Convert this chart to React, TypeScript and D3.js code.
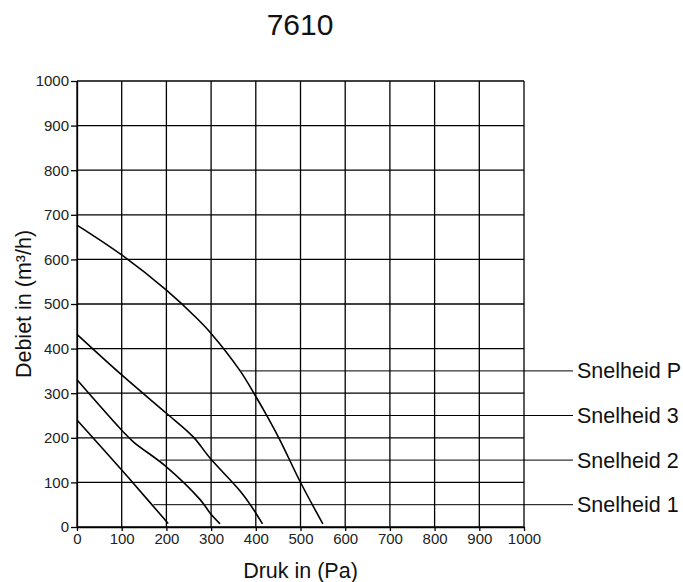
import React, { useEffect, useRef } from 'react';
import * as d3 from 'd3';

// values: pressure (Pa) vs flow (m³/h)
const xTicks = [0, 100, 200, 300, 400, 500, 600, 700, 800, 900, 1000];
const yTicks = [0, 100, 200, 300, 400, 500, 600, 700, 800, 900, 1000];

const speedNames = ['Snelheid P', 'Snelheid 3', 'Snelheid 2', 'Snelheid 1'];

const pressureP = [0, 100, 200, 268, 300, 365, 398, 424, 454, 499, 550];
const flowP = [677, 610, 531, 468, 434, 350, 296, 251, 195, 102, 7];

const pressure3 = [0, 100, 200, 260, 298, 372, 415];
const flow3 = [432, 341, 255, 202, 154, 72, 7];

const pressure2 = [0, 100, 126, 200, 275, 298, 320];
const flow2 = [330, 217, 191, 135, 62, 31, 7];

const pressure1 = [0, 100, 126, 204];
const flow1 = [240, 128, 98, 8];

// where each label's leader line meets its curve
const leaderFlow = [350, 250, 150, 50];
const leaderPressure = [365, 201, 186, 171];

export default function App() {
  const ref = useRef<SVGSVGElement>(null);

  useEffect(() => {
    const width = 683;
    const height = 582;
    const margin = { top: 81, right: 159, bottom: 55, left: 77 };
    const w = width - margin.left - margin.right;
    const h = height - margin.top - margin.bottom;

    const root = d3.select(ref.current);
    root.selectAll('*').remove();

    const svg = root
      .append('g')
      .attr('transform', `translate(${margin.left},${margin.top})`);

    const x = d3.scaleLinear().domain([0, 1000]).range([0, w]);
    const y = d3.scaleLinear().domain([0, 1000]).range([h, 0]);

    // grid
    svg
      .append('g')
      .selectAll('line')
      .data(xTicks)
      .enter()
      .append('line')
      .attr('x1', d => x(d))
      .attr('x2', d => x(d))
      .attr('y1', 0)
      .attr('y2', h)
      .attr('stroke', '#000')
      .attr('stroke-width', 1.3);

    svg
      .append('g')
      .selectAll('line')
      .data(yTicks)
      .enter()
      .append('line')
      .attr('x1', 0)
      .attr('x2', w)
      .attr('y1', d => y(d))
      .attr('y2', d => y(d))
      .attr('stroke', '#000')
      .attr('stroke-width', 1.3);

    // axes
    const yAxis = d3
      .axisLeft(y)
      .tickValues(yTicks)
      .tickFormat(d3.format('d'))
      .tickSize(6)
      .tickPadding(2)
      .tickSizeOuter(0);
    const xAxis = d3
      .axisBottom(x)
      .tickValues(xTicks)
      .tickFormat(d3.format('d'))
      .tickSize(4)
      .tickPadding(2)
      .tickSizeOuter(0);

    const gy = svg.append('g').call(yAxis);
    const gx = svg.append('g').attr('transform', `translate(0,${h})`).call(xAxis);
    [gy, gx].forEach(g => {
      g.select('.domain').attr('stroke', '#000').attr('stroke-width', 1.3);
      g.selectAll('.tick line').attr('stroke', '#000').attr('stroke-width', 1.3);
      g.selectAll('.tick text')
        .attr('fill', '#222')
        .style('font-family', '"Liberation Sans", Arial, sans-serif')
        .style('font-size', '15px');
    });

    // leader lines and labels
    leaderFlow.forEach((f, i) => {
      svg
        .append('line')
        .attr('x1', x(leaderPressure[i]))
        .attr('x2', w + 49)
        .attr('y1', y(f))
        .attr('y2', y(f))
        .attr('stroke', '#000')
        .attr('stroke-width', 1);
      svg
        .append('text')
        .attr('x', w + 53)
        .attr('y', y(f))
        .attr('dy', '0.35em')
        .style('font-family', '"Liberation Sans", Arial, sans-serif')
        .style('font-size', '21.5px')
        .attr('fill', '#111')
        .text(speedNames[i]);
    });

    // curves
    const line = d3
      .line<[number, number]>()
      .x(d => x(d[0]))
      .y(d => y(d[1]))
      .curve(d3.curveCatmullRom.alpha(0.5));

    const curves = [
      [pressureP, flowP],
      [pressure3, flow3],
      [pressure2, flow2],
      [pressure1, flow1],
    ];
    curves.forEach(([px, py]) => {
      svg
        .append('path')
        .datum(px.map((p, i) => [p, py[i]] as [number, number]))
        .attr('d', line)
        .attr('fill', 'none')
        .attr('stroke', '#000')
        .attr('stroke-width', 1.6);
    });

    // titles
    root
      .append('text')
      .attr('x', 300)
      .attr('y', 35)
      .attr('text-anchor', 'middle')
      .style('font-family', '"Liberation Sans", Arial, sans-serif')
      .style('font-size', '30px')
      .attr('fill', '#111')
      .text('7610');

    root
      .append('text')
      .attr('x', margin.left + w / 2)
      .attr('y', 578)
      .attr('text-anchor', 'middle')
      .style('font-family', '"Liberation Sans", Arial, sans-serif')
      .style('font-size', '21.5px')
      .attr('fill', '#111')
      .text('Druk in (Pa)');

    root
      .append('text')
      .attr('transform', `translate(31,${margin.top + h / 2}) rotate(-90)`)
      .attr('text-anchor', 'middle')
      .style('font-family', '"Liberation Sans", Arial, sans-serif')
      .style('font-size', '21.5px')
      .attr('fill', '#111')
      .text('Debiet in (m³/h)');
  }, []);

  return (
    <svg
      ref={ref}
      width={683}
      height={582}
      style={{ position: 'absolute', left: 0, top: 0, background: '#fff' }}
    />
  );
}
